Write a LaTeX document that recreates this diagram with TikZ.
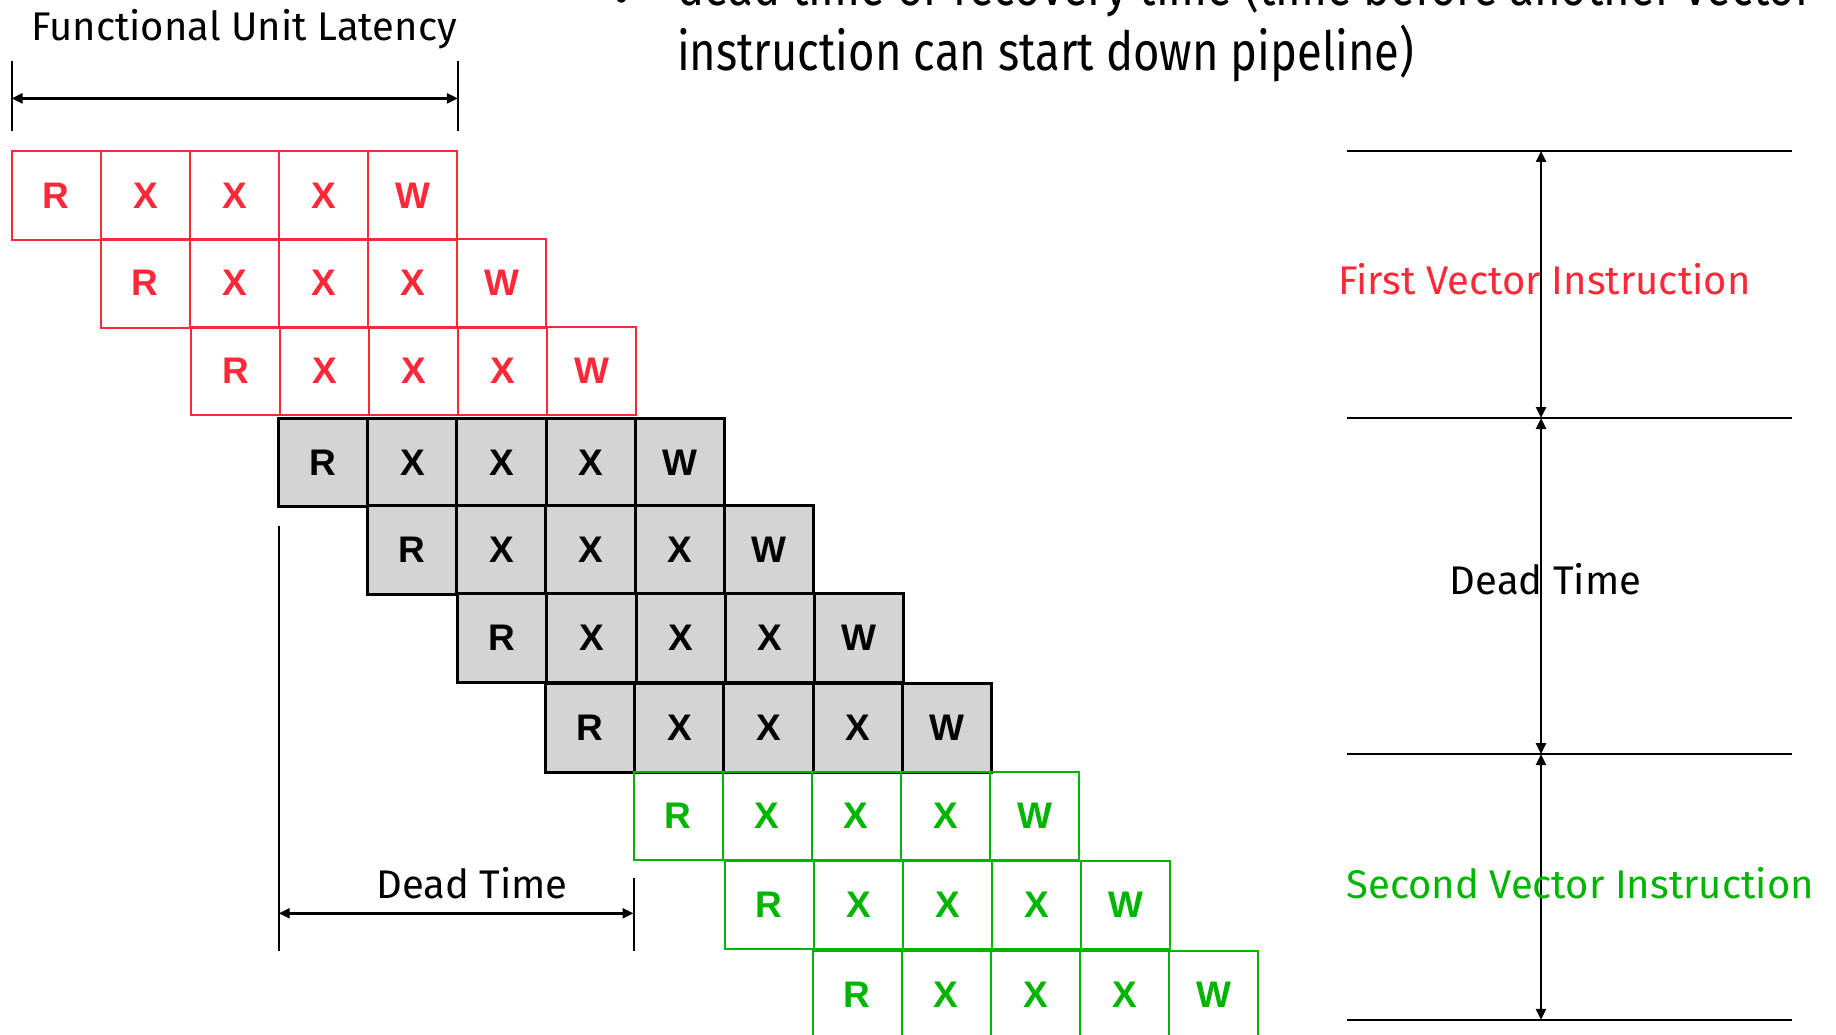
\documentclass[tikz,border=0pt]{standalone}
\usepackage{fontspec}
\setmainfont{Fira Sans}
\newfontfamily\labelfont{Fira Sans}
\newfontfamily\bodyfont[FakeStretch=0.84]{Fira Sans}
\newfontfamily\cellfont{Liberation Sans}
\usetikzlibrary{arrows.meta}
\definecolor{firstred}{RGB}{255,40,56}
\definecolor{secondgreen}{RGB}{0,180,0}
\definecolor{deadgray}{RGB}{212,212,212}
\begin{document}
\begin{tikzpicture}[x=1pt,y=-1pt,
  cell/.style={draw, minimum width=89.1pt, minimum height=88.6pt, inner sep=0pt, outer sep=0pt,
    anchor=north west, font=\cellfont\bfseries\fontsize{37}{37}\selectfont},
  redcell/.style={cell, draw=firstred, text=firstred, line width=2pt},
  graycell/.style={cell, draw=black, fill=deadgray, line width=3pt},
  greencell/.style={cell, draw=secondgreen, text=secondgreen, line width=2pt},
  lbl/.style={font=\labelfont\fontsize{40}{40}\selectfont, inner sep=0pt},
  bigtext/.style={font=\bodyfont\fontsize{54}{54}\selectfont, inner sep=0pt, anchor=base west},
  tick/.style={line width=2pt},
  dim/.style={{Triangle[length=11pt,width=10pt]}-{Triangle[length=11pt,width=10pt]}, line width=2.5pt},
  rule/.style={line width=2.5pt}
]
\useasboundingbox (0,0) rectangle (1836,1035);
\clip (0,0) rectangle (1836,1035);

% bullet text at the top
\node[bigtext] (bul) at (614,16) {•};
\node[bigtext] (line1) at (676.8,6) {dead time or recovery time (time before another vector};
\node[bigtext] (line2) at (676.8,70.7) {instruction can start down pipeline)};

% first vector instruction (red)
\foreach \r/\x/\y in {0/11.7/151.0, 1/100.7/238.9, 2/190.9/326.7}{
  \foreach \k/\l in {0/R,1/X,2/X,3/X,4/W}{
    \node[redcell] (c\r\k) at (\x+\k*89.1,\y) {\l};
  }
}
% dead time (gray)
\foreach \r/\x/\y in {3/278.7/418.0, 4/367.7/505.8, 5/457.8/593.7, 6/545.7/683.8}{
  \foreach \k/\l in {0/R,1/X,2/X,3/X,4/W}{
    \node[graycell] (c\r\k) at (\x+\k*89.1,\y) {\l};
  }
}
% second vector instruction (green)
\foreach \r/\x/\y in {7/633.5/771.6, 8/724.8/860.6, 9/812.6/950.8}{
  \foreach \k/\l in {0/R,1/X,2/X,3/X,4/W}{
    \node[greencell] (c\r\k) at (\x+\k*89.1,\y) {\l};
  }
}

% functional unit latency
\coordinate (fa1) at (11.7,60.9);
\coordinate (fa2) at (11.7,131.1);
\coordinate (fb1) at (457.8,60.9);
\coordinate (fb2) at (457.8,131.1);
\coordinate (fl) at (11.7,98.4);
\coordinate (fr) at (457.8,98.4);
\draw[tick] (fa1) -- (fa2);
\draw[tick] (fb1) -- (fb2);
\draw[dim] (fl) -- (fr);
\node[lbl] (ful) at (244,29.3) {Functional Unit Latency};

% dead time span
\coordinate (da1) at (278.7,525.7);
\coordinate (da2) at (278.7,950.8);
\coordinate (db1) at (633.5,878.2);
\coordinate (db2) at (633.5,950.8);
\coordinate (dl) at (278.7,913.3);
\coordinate (dr) at (633.5,913.3);
\draw[tick] (da1) -- (da2);
\draw[tick] (db1) -- (db2);
\draw[dim] (dl) -- (dr);
\node[lbl] (dtl) at (472,882.9) {Dead Time};

% time scale on the right
\foreach \n/\y in {h0/151.0, h1/418.0, h2/754.1, h3/1019.9}{
  \coordinate (\n l) at (1346.6,\y);
  \coordinate (\n r) at (1791.5,\y);
  \coordinate (\n m) at (1541,\y);
  \draw[rule] (\n l) -- (\n r);
}
\draw[dim] (h0m) -- (h1m);
\draw[dim] (h1m) -- (h2m);
\draw[dim] (h2m) -- (h3m);
\node[lbl, text=firstred] (fvi) at (1544.5,278.7) {First Vector Instruction};
\node[lbl] (dtr) at (1545.6,579.6) {Dead Time};
\node[lbl, text=secondgreen] (svi) at (1580.2,882.9) {Second Vector Instruction};
\end{tikzpicture}
\end{document}
